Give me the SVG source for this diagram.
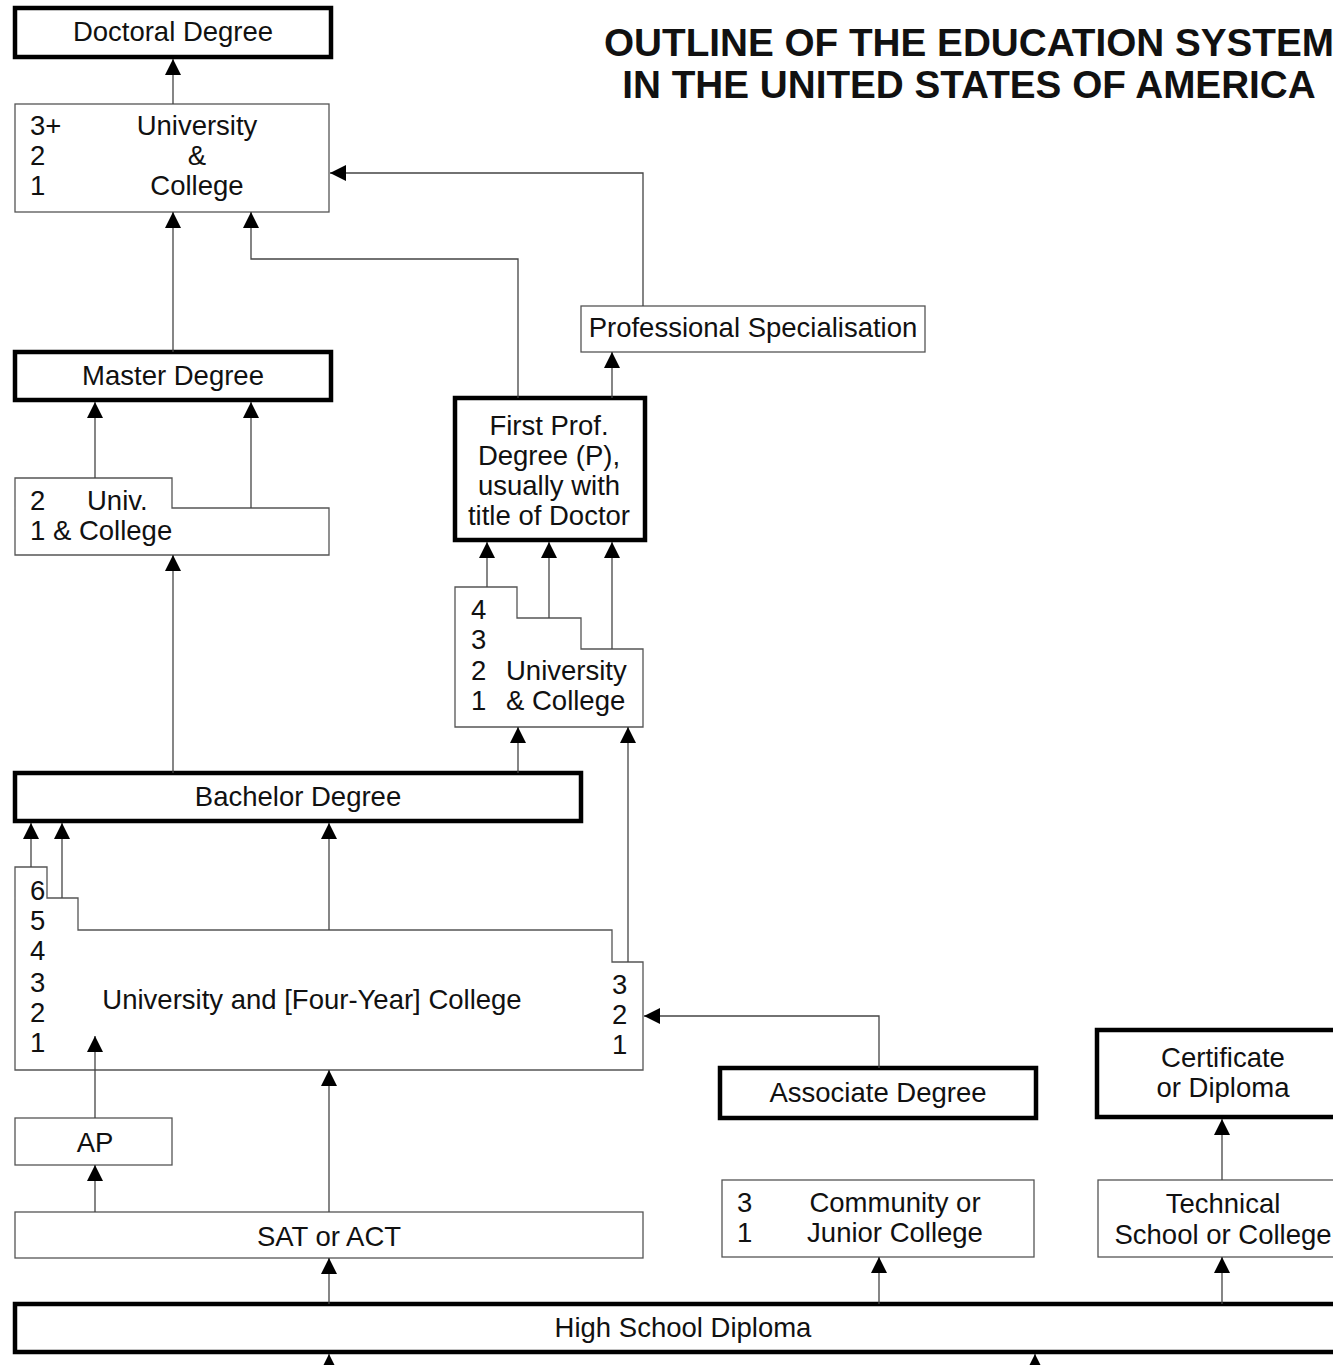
<svg xmlns="http://www.w3.org/2000/svg" width="1333" height="1365" viewBox="0 0 1333 1365">
<defs>
<style>
text{font-family:"Liberation Sans",Arial,sans-serif;font-size:27.5px;fill:#111}
.c{text-anchor:middle}
.title{font-weight:bold;font-size:38.7px;text-anchor:middle}
.thin{fill:#fff;stroke:#555;stroke-width:1.3}
.thick{fill:#fff;stroke:#000;stroke-width:4.5}
.con{fill:none;stroke:#444;stroke-width:1.3;marker-end:url(#ah)}
</style>
<marker id="ah" markerUnits="userSpaceOnUse" markerWidth="16" markerHeight="18" refX="16" refY="8" orient="auto" viewBox="0 0 16 16">
<path d="M0,0 L16,8 L0,16 z" fill="#000"/>
</marker>
</defs>
<rect width="1333" height="1365" fill="#fff"/>

<g id="title">
<text class="title" x="969" y="56">OUTLINE OF THE EDUCATION SYSTEM</text>
<text class="title" x="969" y="98">IN THE UNITED STATES OF AMERICA</text>
</g>

<g id="doctoral">
<rect class="thick" x="15" y="8" width="316" height="49"/>
<text class="c" x="173" y="41">Doctoral Degree</text>
</g>

<g id="univ-postgrad">
<rect class="thin" x="15" y="104" width="314" height="108"/>
<text x="30" y="135">3+</text><text x="30" y="165">2</text><text x="30" y="195">1</text>
<text class="c" x="197" y="135">University</text>
<text class="c" x="197" y="165">&amp;</text>
<text class="c" x="197" y="195">College</text>
</g>

<g id="prof-spec">
<rect class="thin" x="581" y="306" width="344" height="46"/>
<text class="c" x="753" y="337">Professional Specialisation</text>
</g>

<g id="master">
<rect class="thick" x="15" y="352" width="316" height="48"/>
<text class="c" x="173" y="385">Master Degree</text>
</g>

<g id="univ-master">
<path class="thin" d="M15,478 H172 V508 H329 V555 H15 Z"/>
<text x="30" y="510">2</text><text x="87" y="510">Univ.</text>
<text x="30" y="540">1 &amp; College</text>
</g>

<g id="first-prof">
<rect class="thick" x="455" y="398" width="190" height="142"/>
<text class="c" x="549" y="435">First Prof.</text>
<text class="c" x="549" y="465">Degree (P),</text>
<text class="c" x="549" y="495">usually with</text>
<text class="c" x="549" y="525">title of Doctor</text>
</g>

<g id="univ-prof">
<path class="thin" d="M455,587 H517 V618 H581 V649 H643 V727 H455 Z"/>
<text x="471" y="619">4</text><text x="471" y="649">3</text>
<text x="471" y="680">2</text><text x="506" y="680">University</text>
<text x="471" y="710">1</text><text x="506" y="710">&amp; College</text>
</g>

<g id="bachelor">
<rect class="thick" x="15" y="773" width="566" height="48"/>
<text class="c" x="298" y="806">Bachelor Degree</text>
</g>

<g id="univ-4yr">
<path class="thin" d="M15,867 H47 V898 H78 V930 H612 V962 H643 V1070 H15 Z"/>
<text x="30" y="900">6</text><text x="30" y="930">5</text><text x="30" y="960">4</text>
<text x="30" y="992">3</text><text x="30" y="1022">2</text><text x="30" y="1052">1</text>
<text class="c" x="312" y="1009">University and [Four-Year] College</text>
<text x="612" y="994">3</text><text x="612" y="1024">2</text><text x="612" y="1054">1</text>
</g>

<g id="associate">
<rect class="thick" x="720" y="1068" width="316" height="50"/>
<text class="c" x="878" y="1102">Associate Degree</text>
</g>

<g id="certificate">
<rect class="thick" x="1097" y="1030" width="250" height="87"/>
<text class="c" x="1223" y="1067">Certificate</text>
<text class="c" x="1223" y="1097">or Diploma</text>
</g>

<g id="ap">
<rect class="thin" x="15" y="1118" width="157" height="47"/>
<text class="c" x="95" y="1152">AP</text>
</g>

<g id="sat">
<rect class="thin" x="15" y="1212" width="628" height="46"/>
<text class="c" x="329" y="1246">SAT or ACT</text>
</g>

<g id="community">
<rect class="thin" x="722" y="1180" width="312" height="77"/>
<text x="737" y="1212">3</text><text x="737" y="1242">1</text>
<text class="c" x="895" y="1212">Community or</text>
<text class="c" x="895" y="1242">Junior College</text>
</g>

<g id="technical">
<rect class="thin" x="1098" y="1180" width="250" height="77"/>
<text class="c" x="1223" y="1213">Technical</text>
<text class="c" x="1223" y="1244">School or College</text>
</g>

<g id="highschool">
<rect class="thick" x="15" y="1304" width="1330" height="48"/>
<text class="c" x="683" y="1337">High School Diploma</text>
</g>

<g id="connectors">
<path class="con" d="M173,104 V59"/>
<path class="con" d="M643,306 V173 H330"/>
<path class="con" d="M173,352 V212"/>
<path class="con" d="M518,398 V259 H251 V212"/>
<path class="con" d="M612,398 V352"/>
<path class="con" d="M95,478 V402"/>
<path class="con" d="M251,508 V402"/>
<path class="con" d="M173,773 V555"/>
<path class="con" d="M487,587 V542"/>
<path class="con" d="M549,618 V542"/>
<path class="con" d="M612,649 V542"/>
<path class="con" d="M518,773 V727"/>
<path class="con" d="M628,962 V727"/>
<path class="con" d="M31,867 V823"/>
<path class="con" d="M62,898 V823"/>
<path class="con" d="M329,930 V823"/>
<path class="con" d="M879,1068 V1016 H644"/>
<path class="con" d="M95,1118 V1036"/>
<path class="con" d="M329,1212 V1070"/>
<path class="con" d="M95,1212 V1165"/>
<path class="con" d="M329,1304 V1258"/>
<path class="con" d="M879,1304 V1257"/>
<path class="con" d="M1222,1180 V1119"/>
<path class="con" d="M1222,1304 V1257"/>
<path class="con" d="M329,1380 V1354"/>
<path class="con" d="M1035,1380 V1354"/>
</g>
</svg>
